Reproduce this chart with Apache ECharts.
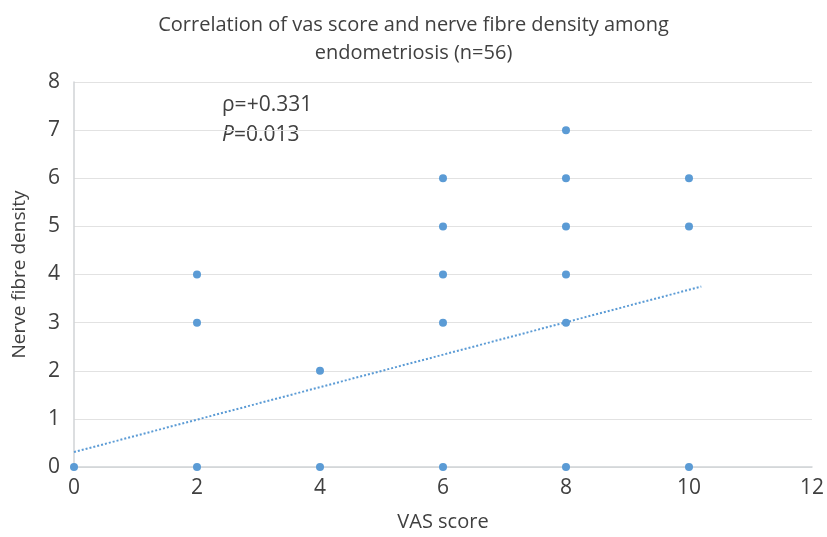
<!DOCTYPE html>
<html><head><meta charset="utf-8">
<script src="https://cdn.jsdelivr.net/npm/echarts@6/dist/echarts.min.js"></script>
<style>html,body{margin:0;padding:0;background:#fff}#c{width:827px;height:537px}</style>
</head><body><div id="c"></div>
<script>
const vasScore = [0, 2, 2, 2, 4, 4, 6, 6, 6, 6, 6, 8, 8, 8, 8, 8, 8, 10, 10, 10];
const nerveDensity = [0, 0, 3, 4, 0, 2, 0, 3, 4, 5, 6, 0, 3, 4, 5, 6, 7, 0, 5, 6];
const trendX = [0, 10.2];
const trendY = [0.31, 3.75];
const xTicks = [0, 2, 4, 6, 8, 10, 12];
const yTicks = [0, 1, 2, 3, 4, 5, 6, 7, 8];
const titleText = 'Correlation of vas score and nerve fibre density among\nendometriosis (n=56)';
const xName = 'VAS score';
const yName = 'Nerve fibre density';

const font = '"Open Sans", "Noto Sans", sans-serif';
const txt = '#404040';
const chart = echarts.init(document.getElementById('c'));
chart.setOption({
  animation: false,
  title: {
    text: titleText, left: 'center', top: 6,
    textStyle: { fontFamily: font, fontSize: 20, fontWeight: 'normal', color: txt, lineHeight: 28 }
  },
  grid: { left: 74, right: 9, top: 82, bottom: 69 },
  xAxis: {
    type: 'value', min: xTicks[0], max: xTicks[xTicks.length - 1], interval: 2,
    name: xName, nameLocation: 'middle', nameGap: 45,
    nameTextStyle: { fontFamily: font, fontSize: 20, color: txt },
    axisLine: { show: true, lineStyle: { color: '#d0d3d6', width: 1.5 } },
    axisTick: { show: false },
    splitLine: { show: false },
    axisLabel: { fontFamily: font, fontSize: 21, color: txt, margin: 11 }
  },
  yAxis: {
    type: 'value', min: yTicks[0], max: yTicks[yTicks.length - 1], interval: 1,
    name: yName, nameLocation: 'middle', nameGap: 45, nameRotate: 90,
    nameTextStyle: { fontFamily: font, fontSize: 19, color: txt },
    axisLine: { show: true, lineStyle: { color: '#d0d3d6', width: 1.5 } },
    axisTick: { show: false },
    splitLine: { show: true, lineStyle: { color: '#e2e2e2', width: 1 } },
    axisLabel: { fontFamily: font, fontSize: 21, color: txt, margin: 14 }
  },
  graphic: [{
    type: 'text', left: 222, top: 95,
    style: {
      text: '{a|ρ=+0.331}\n{i|P}{a|=0.013}',
      rich: {
        a: { fontFamily: font, fontSize: 21, fill: txt, lineHeight: 30 },
        i: { fontFamily: font, fontSize: 21, fill: txt, fontStyle: 'italic', lineHeight: 30 }
      }
    }
  }],
  series: [
    {
      type: 'line', data: trendX.map((x, i) => [x, trendY[i]]), symbol: 'none',
      lineStyle: { color: '#5b9bd5', width: 2, type: [2, 2] }, z: 1
    },
    {
      type: 'scatter', data: vasScore.map((x, i) => [x, nerveDensity[i]]),
      symbolSize: 8, itemStyle: { color: '#5b9bd5', opacity: 1 }, z: 2
    }
  ]
});
</script></body></html>
